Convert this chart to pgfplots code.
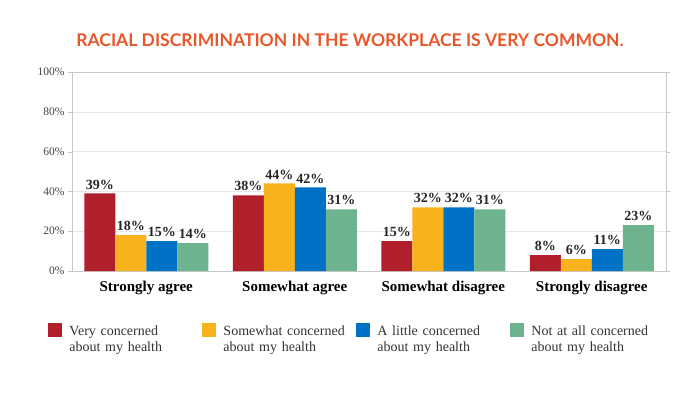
\documentclass[border=0pt]{standalone}
\usepackage{pgfplots}
\pgfplotsset{compat=1.18}
\usepackage{fontspec}
\setmainfont{Liberation Serif}
\newfontfamily\titlefont{Lato}
\definecolor{titleorange}{HTML}{E8572A}
\definecolor{cred}{HTML}{B01F2A}
\definecolor{cyellow}{HTML}{F8B21B}
\definecolor{cblue}{HTML}{0072C6}
\definecolor{cgreen}{HTML}{6DB38D}
\definecolor{gridgray}{HTML}{E6E6E6}
\definecolor{axgray}{HTML}{C8C8C8}
\definecolor{ticktext}{HTML}{444444}
\begin{document}
\begin{tikzpicture}[x=1pt,y=1pt]
\path[use as bounding box] (0,0) rectangle (700,394);
\node[font=\titlefont\bfseries\fontsize{17.5}{20}\selectfont, text=titleorange] at (350,354) {RACIAL DISCRIMINATION IN THE WORKPLACE IS VERY COMMON.};
\begin{axis}[
  at={(72pt,123pt)}, anchor=south west,
  width=594pt, height=199pt, scale only axis,
  ymin=0, ymax=100, xmin=-0.5, xmax=3.5,
  ytick={0,20,...,100},
  yticklabel={\pgfmathprintnumber{\tick}\%},
  /pgf/number format/assume math mode=true,
  yticklabel style={font=\fontsize{11.5}{13}\selectfont, text=ticktext},
  xtick={0,1,2,3},
  xticklabels={Strongly agree, Somewhat agree, Somewhat disagree, Strongly disagree},
  xticklabel style={font=\bfseries\fontsize{15}{17}\selectfont, text=black, yshift=-3pt},
  x tick style={draw=none},
  y tick style={draw=axgray},
  major tick length=4pt, tick align=outside,
  ymajorgrids, grid style={gridgray, line width=0.6pt},
  axis line style={axgray, line width=0.8pt},
  ybar=0pt, bar width=31pt,
  nodes near coords={\pgfmathprintnumber{\pgfplotspointmeta}\%},
  nodes near coords style={font=\bfseries\fontsize{14}{16}\selectfont, text=black!85, inner sep=2pt, yshift=2pt},
  legend columns=4,
  legend style={at={(-0.045,-0.25)}, anchor=north west, draw=none, fill=none,
    font=\fontsize{14}{16.5}\selectfont, text=black!80,
    /tikz/every odd column/.append style={column sep=5pt},
    /tikz/every even column/.append style={text width=131pt, align=left, column sep=0pt}},
  legend image code/.code={\fill[#1] (0pt,-6pt) rectangle (14pt,8pt);},
]
\addplot[fill=cred, draw=none] coordinates {(0,39) (1,38) (2,15) (3,8)};
\addplot[fill=cyellow, draw=none] coordinates {(0,18) (1,44) (2,32) (3,6)};
\addplot[fill=cblue, draw=none] coordinates {(0,15) (1,42) (2,32) (3,11)};
\addplot[fill=cgreen, draw=none] coordinates {(0,14) (1,31) (2,31) (3,23)};
\legend{Very concerned\\about my health, Somewhat concerned\\about my health, A little concerned\\about my health, Not at all concerned\\about my health}
\end{axis}
\end{tikzpicture}
\end{document}
